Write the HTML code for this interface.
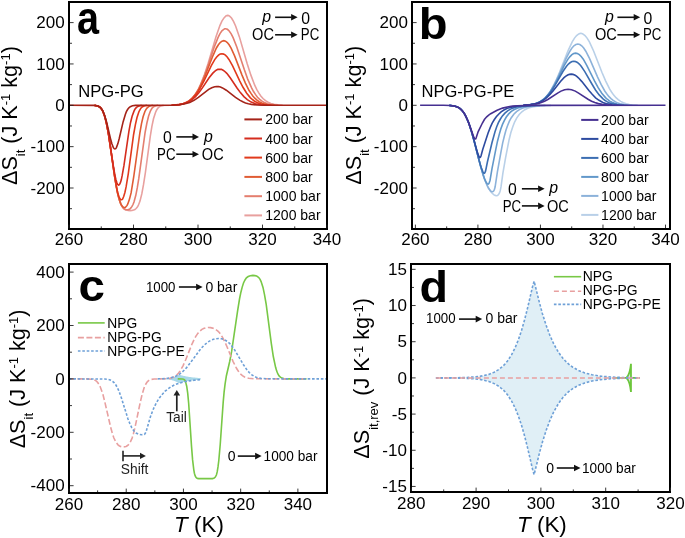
<!DOCTYPE html><html><head><meta charset="utf-8"><style>html,body{margin:0;padding:0;background:#fff;}svg{display:block;will-change:transform;}</style></head><body><svg width="685" height="538" viewBox="0 0 685 538" font-family="Liberation Sans, sans-serif" fill="#000">
<rect width="685" height="538" fill="#fff"/>
<defs>
<clipPath id="ca"><rect x="70" y="3" width="256" height="225"/></clipPath>
<clipPath id="cb"><rect x="413" y="3" width="256" height="225"/></clipPath>
<clipPath id="cc"><rect x="70" y="265" width="256" height="227"/></clipPath>
<clipPath id="cd"><rect x="412" y="265" width="257" height="226"/></clipPath>
</defs>
<g clip-path="url(#ca)">
<path d="M94.6 105.4L96.7 105.7L98.5 106.3L99.9 107.2L101.2 108.5L102.3 110.3L103.4 112.6L105.5 118.9L107.2 126.6L108.9 136.5L114.1 172.6L116.0 184.9L117.8 194.2L119.8 201.2L121.7 205.8L122.8 207.4L123.8 208.6L125.0 209.5L126.4 210.1L128.1 210.5L130.1 210.6L132.0 210.4L133.6 210.1L134.9 209.5L136.1 208.5L137.2 207.3L138.2 205.7L140.0 201.1L141.8 193.9L143.5 184.7L145.4 172.5L150.3 136.1L151.9 126.4L153.5 118.8L155.5 112.5L156.5 110.2L157.6 108.5L158.8 107.2L160.1 106.3L161.7 105.8L163.6 105.4M171.5 105.2L176.4 104.9L180.3 104.3L183.6 103.5L186.5 102.3L189.2 100.7L191.7 98.6L194.1 95.9L196.3 92.7L198.4 89.1L200.3 85.1L204.4 74.7L208.1 63.4L216.0 36.7L219.9 25.6L221.9 21.1L224.0 17.9L225.9 16.0L226.9 15.6L227.7 15.4L228.6 15.6L229.6 16.1L231.5 18.0L233.5 21.4L235.6 26.0L239.4 36.9L247.2 63.7L250.8 74.9L254.7 85.2L256.7 89.3L258.6 92.7L260.8 95.9L263.0 98.5L265.5 100.7L268.1 102.3L270.9 103.5L274.1 104.3L277.9 104.9L282.7 105.2" fill="none" stroke="#e8a09e" stroke-width="1.6"/>
<path d="M94.6 105.4L96.5 105.7L98.1 106.2L99.4 106.9L100.6 107.9L101.7 109.2L102.8 111.1L104.6 115.9L106.4 123.0L108.3 132.5L115.0 179.0L116.6 188.4L118.1 195.5L120.0 201.9L120.9 204.3L122.0 206.3L123.2 207.9L124.4 209.0L125.7 209.6L127.1 209.8L128.5 209.6L129.8 209.0L130.9 207.9L132.0 206.4L133.0 204.5L134.0 202.0L135.8 195.3L137.3 187.7L138.8 178.4L145.1 132.5L146.9 123.0L148.6 116.0L150.4 111.0L151.4 109.2L152.3 107.9L153.4 106.9L154.7 106.2L156.2 105.7L158.0 105.4M171.5 105.2L176.2 104.9L179.9 104.4L183.1 103.7L185.9 102.6L188.5 101.2L191.0 99.4L193.2 97.1L195.4 94.3L197.3 91.3L199.2 87.8L203.1 79.1L206.7 69.5L214.4 46.6L218.1 37.4L220.0 33.6L221.9 30.8L223.8 29.3L224.7 28.8L225.6 28.7L226.4 28.9L227.4 29.3L229.2 31.0L231.2 33.8L233.1 37.6L236.8 47.0L244.3 69.6L247.7 79.1L251.6 87.9L253.4 91.3L255.4 94.4L257.5 97.2L259.7 99.4L262.0 101.2L264.5 102.6L267.2 103.7L270.3 104.4L274.0 104.9L278.5 105.2" fill="none" stroke="#e47e6e" stroke-width="1.6"/>
<path d="M94.6 105.4L96.6 105.7L98.3 106.2L99.7 107.0L100.8 108.1L101.9 109.6L103.0 111.6L104.9 116.9L106.6 124.0L108.5 133.8L114.7 177.0L117.5 192.7L119.1 199.1L120.8 203.8L121.7 205.4L122.6 206.5L123.4 207.2L124.4 207.5L125.4 207.2L126.2 206.5L127.1 205.4L127.9 203.7L129.5 199.1L131.1 192.9L133.7 177.0L139.8 133.3L141.5 123.6L143.1 116.8L144.9 111.5L145.9 109.6L147.0 108.1L148.2 107.0L149.4 106.2L150.9 105.7L152.9 105.4M171.5 105.2L175.9 104.9L179.4 104.5L182.6 103.9L185.3 103.0L187.7 101.8L190.1 100.2L192.2 98.3L194.4 95.9L196.3 93.3L198.2 90.4L201.9 83.1L205.4 75.0L212.9 55.8L216.4 48.0L218.4 44.8L220.2 42.5L222.0 41.2L223.8 40.7L225.5 41.2L227.3 42.5L229.1 44.8L231.1 48.1L234.6 55.9L242.0 75.1L245.4 83.1L249.1 90.5L251.0 93.4L252.8 95.9L254.8 98.2L257.0 100.2L259.2 101.7L261.7 103.0L264.3 103.8L267.3 104.5L270.8 104.9L275.1 105.2" fill="none" stroke="#e05c34" stroke-width="1.6"/>
<path d="M94.6 105.4L96.6 105.7L98.3 106.2L99.7 107.0L100.8 108.1L102.0 109.7L103.1 111.8L105.0 117.3L106.7 124.5L108.6 134.5L114.3 173.9L116.5 187.2L117.8 193.0L119.0 196.8L120.2 199.1L120.8 199.7L121.4 199.8L122.0 199.6L122.6 199.0L123.7 196.5L124.9 192.5L126.1 186.9L128.3 173.6L133.6 134.5L135.4 124.6L137.0 117.5L138.9 111.7L139.9 109.8L140.9 108.2L142.1 107.0L143.4 106.2L144.9 105.7L146.9 105.4M171.6 105.2L179.0 104.6L181.9 104.1L184.5 103.3L186.9 102.4L189.1 101.1L191.3 99.5L193.3 97.6L197.0 93.2L200.6 87.4L204.0 81.0L211.3 65.7L214.7 59.6L216.7 56.9L218.5 55.1L220.2 54.0L221.9 53.7L223.6 54.1L225.4 55.1L227.2 57.0L229.1 59.7L232.6 65.8L239.8 81.1L243.0 87.3L246.7 93.2L250.2 97.6L252.3 99.5L254.3 101.0L256.5 102.3L258.8 103.3L261.4 104.0L264.2 104.6L271.5 105.2" fill="none" stroke="#e13a1c" stroke-width="1.6"/>
<path d="M94.6 105.4L96.5 105.7L98.1 106.2L99.4 106.9L100.6 107.9L101.7 109.2L102.8 111.1L104.7 116.2L106.4 122.9L108.1 131.8L113.3 165.8L115.0 175.6L116.0 179.9L117.0 183.0L117.8 184.6L118.3 185.0L118.7 185.1L119.5 184.5L120.4 182.7L121.3 179.8L122.2 175.4L124.0 165.2L128.9 131.4L130.5 122.7L132.1 116.2L134.0 111.1L134.9 109.3L136.0 107.9L137.1 106.9L138.4 106.2L139.9 105.7L141.7 105.4M171.8 105.2L178.6 104.7L183.6 103.7L188.1 102.1L192.0 99.7L195.5 96.6L199.0 92.5L202.2 88.1L209.1 77.8L212.6 73.4L214.4 71.6L216.2 70.2L217.9 69.4L219.7 69.2L221.4 69.4L223.1 70.2L224.9 71.5L226.8 73.3L230.2 77.7L237.2 88.2L240.4 92.6L243.9 96.6L247.3 99.7L251.2 102.1L255.5 103.7L260.5 104.7L267.1 105.2" fill="none" stroke="#d52d1e" stroke-width="1.6"/>
<path d="M69.0 105.3L94.6 105.4L96.5 105.7L98.0 106.1L99.3 106.8L100.5 107.7L101.6 108.9L102.7 110.7L104.7 115.5L106.7 122.5L110.5 138.6L111.9 143.8L113.4 147.7L114.2 148.7L114.9 149.0L115.7 148.7L116.4 147.6L117.9 143.6L119.3 138.3L123.1 121.9L125.4 114.3L126.4 111.6L127.6 109.5L128.9 107.8L130.3 106.7L132.5 105.8L135.5 105.4L172.7 105.2L179.7 104.7L185.0 103.8L189.7 102.4L194.0 100.3L198.4 97.4L208.7 89.4L211.8 87.7L214.7 86.7L216.7 86.5L218.5 86.6L220.4 87.1L222.5 87.9L226.3 90.2L235.5 97.4L240.1 100.4L242.8 101.8L245.5 102.9L248.3 103.7L251.4 104.4L257.2 105.0L265.3 105.2L327.0 105.3" fill="none" stroke="#a52318" stroke-width="1.6"/>
</g>
<g clip-path="url(#cb)">
<path d="M523.2 105.2L527.9 104.9L531.7 104.4L534.9 103.8L537.7 102.8L540.4 101.5L542.9 99.8L545.3 97.7L547.6 95.2L549.6 92.4L551.6 89.1L555.7 81.2L559.6 72.1L568.0 50.9L572.2 41.8L574.5 38.1L576.6 35.5L578.8 33.9L579.8 33.5L580.8 33.3L581.8 33.5L582.8 33.9L585.0 35.5L587.1 38.1L589.4 41.9L593.6 51.0L601.9 72.2L605.7 81.1L609.7 89.2L611.7 92.3L613.7 95.1L616.0 97.7L618.2 99.7L620.7 101.4L623.4 102.8L626.2 103.8L629.4 104.5L633.1 104.9L637.8 105.2" fill="none" stroke="#b9d0e8" stroke-width="1.6"/>
<path d="M523.2 105.2L531.3 104.5L534.5 103.9L537.2 103.0L539.8 101.9L542.2 100.3L544.5 98.5L546.6 96.3L548.6 94.0L550.5 91.2L554.5 84.2L558.1 76.7L566.0 58.7L569.9 51.2L572.0 47.9L573.9 45.8L575.9 44.5L577.8 44.0L579.8 44.5L581.7 45.8L583.7 48.0L585.8 51.2L589.6 58.7L597.5 76.8L601.1 84.4L604.9 91.2L606.9 94.0L608.8 96.4L611.0 98.6L613.2 100.4L615.6 101.9L618.1 103.1L620.8 103.9L623.9 104.5L631.8 105.2" fill="none" stroke="#8cb2da" stroke-width="1.6"/>
<path d="M523.2 105.2L530.9 104.6L533.8 104.0L536.5 103.3L539.0 102.3L541.3 101.0L543.5 99.5L545.6 97.6L549.4 93.1L553.2 87.3L556.7 80.9L564.3 65.4L568.0 59.1L570.0 56.6L571.9 54.6L573.7 53.5L575.6 53.1L577.4 53.5L579.3 54.6L581.2 56.5L583.3 59.2L586.9 65.6L594.5 80.9L598.0 87.4L601.8 93.3L605.5 97.6L607.6 99.5L609.7 101.1L612.0 102.3L614.5 103.3L617.0 104.0L620.0 104.6L627.5 105.2" fill="none" stroke="#6298ca" stroke-width="1.6"/>
<path d="M523.2 105.2L530.5 104.6L535.9 103.5L538.2 102.7L540.5 101.6L542.6 100.3L544.7 98.7L548.4 94.9L552.1 90.0L555.4 84.6L562.9 71.5L566.5 66.3L568.4 64.0L570.3 62.5L572.1 61.5L573.8 61.3L575.6 61.6L577.4 62.5L579.3 64.1L581.2 66.3L584.8 71.6L592.2 84.5L595.5 90.0L599.2 94.9L602.8 98.6L604.8 100.3L606.9 101.6L609.1 102.7L611.5 103.5L616.8 104.6L624.0 105.2" fill="none" stroke="#3c6eb2" stroke-width="1.6"/>
<path d="M523.4 105.2L530.0 104.7L535.0 103.9L539.3 102.5L543.3 100.3L546.7 97.7L550.2 94.3L553.4 90.5L560.5 81.4L564.0 77.7L565.9 76.2L567.7 75.0L569.4 74.4L571.2 74.1L572.9 74.4L574.7 75.0L576.5 76.2L578.4 77.8L581.9 81.6L588.9 90.5L592.2 94.3L595.6 97.8L599.0 100.3L602.9 102.4L607.2 103.9L612.2 104.7L618.6 105.2" fill="none" stroke="#2d4ba0" stroke-width="1.6"/>
<path d="M524.2 105.2L529.5 104.9L533.9 104.4L537.7 103.6L541.3 102.5L544.5 101.2L547.8 99.5L557.6 93.1L561.0 91.1L564.6 89.7L568.1 89.2L571.6 89.7L575.3 91.1L578.6 93.1L588.4 99.5L591.6 101.2L594.8 102.5L598.4 103.6L602.2 104.4L606.5 104.9L611.8 105.2" fill="none" stroke="#463091" stroke-width="1.6"/>
<path d="M449.3 105.4L452.5 105.7L455.0 106.2L457.1 106.9L459.1 107.9L460.9 109.3L462.5 111.0L464.1 113.2L465.6 115.8L468.4 122.1L471.2 130.6L474.0 140.5L481.1 167.8L483.3 175.4L485.5 181.5L488.1 187.5L490.8 191.7L492.2 193.3L493.7 194.6L495.2 195.4L496.4 195.7L497.5 195.4L498.6 194.5L499.5 193.0L500.2 190.9L501.0 186.9L502.9 173.2L505.6 157.7L509.1 139.7L510.8 132.8L512.7 126.9L514.6 122.0L516.8 117.9L519.2 114.5L521.9 111.8L524.8 109.7L528.3 108.1L532.3 107.0L537.0 106.2L542.9 105.7L551.0 105.4" fill="none" stroke="#b9d0e8" stroke-width="1.6"/>
<path d="M449.3 105.4L452.5 105.7L455.1 106.2L457.3 107.0L459.3 108.0L461.1 109.5L462.8 111.4L464.5 113.8L466.0 116.6L468.8 123.2L471.5 131.6L474.1 140.9L480.6 166.3L484.3 178.4L486.5 184.0L488.6 188.3L490.6 191.0L491.4 191.6L492.2 191.8L493.0 191.6L493.8 190.7L494.5 189.3L495.1 187.0L497.4 171.8L500.8 152.9L502.7 142.9L504.5 135.5L506.0 130.0L507.7 125.3L509.4 121.2L511.3 117.7L513.8 114.3L516.5 111.6L519.4 109.6L522.9 108.0L526.9 106.9L531.6 106.2L537.5 105.7L545.4 105.4" fill="none" stroke="#8cb2da" stroke-width="1.6"/>
<path d="M449.3 105.4L452.5 105.7L455.1 106.2L457.3 107.0L459.3 108.0L461.1 109.5L462.8 111.4L464.5 113.8L466.0 116.6L468.8 123.2L471.6 132.0L474.2 141.2L480.2 164.8L483.2 175.0L484.6 179.0L486.0 181.9L487.1 183.6L488.1 184.1L488.6 183.9L489.1 183.2L490.0 180.5L492.0 168.6L495.8 149.4L497.5 141.2L499.2 134.6L500.8 129.1L502.5 124.4L504.4 120.4L506.3 117.0L508.7 113.9L511.3 111.4L514.3 109.5L517.8 107.9L521.7 106.9L526.4 106.2L532.2 105.7L540.0 105.4" fill="none" stroke="#6298ca" stroke-width="1.6"/>
<path d="M449.3 105.4L452.5 105.7L455.1 106.2L457.2 106.9L459.2 107.9L461.0 109.4L462.6 111.2L464.2 113.3L465.7 116.0L468.5 122.3L471.3 130.9L474.0 140.5L479.2 160.8L481.1 167.2L482.8 171.6L483.6 172.9L484.2 173.3L484.6 173.1L484.9 172.7L485.6 170.9L487.4 162.0L491.9 143.0L495.0 131.7L496.7 126.8L498.4 122.7L500.4 119.0L502.4 115.9L504.9 113.1L507.6 110.8L510.5 109.1L513.9 107.7L517.7 106.8L522.3 106.1L527.9 105.7L535.5 105.4" fill="none" stroke="#3c6eb2" stroke-width="1.6"/>
<path d="M449.3 105.4L454.7 106.1L456.7 106.7L458.6 107.6L460.3 108.8L461.8 110.2L463.4 112.1L464.8 114.3L467.0 118.8L469.3 124.6L472.0 133.0L477.4 152.4L478.8 156.2L479.4 157.2L479.9 157.5L480.4 157.2L481.0 156.0L482.8 149.2L488.1 133.0L490.4 127.1L492.2 123.2L494.2 119.8L496.3 116.7L498.6 114.2L501.1 111.9L503.9 110.0L506.8 108.5L510.2 107.4L514.0 106.6L518.4 106.0L530.8 105.4" fill="none" stroke="#2d4ba0" stroke-width="1.6"/>
<path d="M420.1 105.3L443.4 105.3L450.1 105.5L455.1 106.2L457.1 106.9L458.9 107.8L460.7 109.1L462.3 110.8L464.0 113.0L465.5 115.6L468.4 122.0L473.5 136.3L474.5 138.4L474.9 138.9L475.3 139.0L475.7 138.8L476.1 138.0L478.2 131.6L482.4 123.0L484.4 119.5L486.7 116.8L488.4 115.3L490.7 113.7L497.1 110.3L502.6 108.1L508.4 106.7L512.5 106.1L517.4 105.7L531.7 105.4L665.5 105.3" fill="none" stroke="#463091" stroke-width="1.6"/>
</g>
<g clip-path="url(#cc)">
<path d="M149.1 378.9L149.2 378.9L149.3 378.9L149.4 378.9L149.5 378.9L149.5 378.9L149.6 378.9L149.7 378.9L149.8 378.9L149.9 378.9L150.0 378.9L150.1 378.9L150.1 378.9L150.2 378.9L150.3 378.9L150.4 378.9L150.5 378.9L150.6 378.9L150.7 378.9L150.7 378.9L150.8 378.9L150.9 378.9L151.0 378.9L151.1 378.9L151.2 378.9L151.3 378.9L151.3 378.9L151.4 378.9L151.5 378.9L151.6 378.9L151.7 378.9L151.8 378.9L151.9 378.9L151.9 378.9L152.0 378.9L152.1 378.9L152.2 378.9L152.3 378.9L152.4 378.9L152.5 378.9L152.6 378.9L152.6 378.9L152.7 378.9L152.8 378.9L152.9 378.9L153.0 378.9L153.1 378.9L153.2 378.9L153.2 378.9L153.3 378.9L153.4 378.9L153.5 378.9L153.6 378.9L153.7 378.9L153.8 378.9L153.8 378.9L153.9 378.9L154.0 378.9L154.1 378.9L154.2 378.9L154.3 378.9L154.4 378.9L154.4 378.9L154.5 378.9L154.6 378.9L154.7 378.9L154.8 378.9L154.9 378.9L155.0 378.9L155.0 378.9L155.1 378.9L155.2 378.9L155.3 378.9L155.4 378.9L155.5 378.9L155.6 378.9L155.6 378.9L155.7 378.9L155.8 378.9L155.9 378.9L156.0 378.9L156.1 378.9L156.2 378.9L156.2 378.9L156.3 378.9L156.4 378.9L156.5 378.9L156.6 378.9L156.7 378.9L156.8 378.9L156.8 378.9L156.9 378.9L157.0 378.9L157.1 378.9L157.2 378.9L157.3 378.9L157.4 378.9L157.5 378.9L157.5 378.9L157.6 378.9L157.7 378.9L157.8 378.9L157.9 378.9L158.0 378.8L158.1 378.8L158.1 378.8L158.2 378.8L158.3 378.8L158.4 378.8L158.5 378.8L158.6 378.8L158.7 378.8L158.7 378.8L158.8 378.8L158.9 378.8L159.0 378.8L159.1 378.8L159.2 378.8L159.3 378.8L159.3 378.8L159.4 378.8L159.5 378.8L159.6 378.8L159.7 378.8L159.8 378.8L159.9 378.8L159.9 378.8L160.0 378.8L160.1 378.8L160.2 378.8L160.3 378.8L160.4 378.8L160.5 378.8L160.5 378.8L160.6 378.8L160.7 378.8L160.8 378.8L160.9 378.8L161.0 378.8L161.1 378.8L161.1 378.8L161.2 378.8L161.3 378.8L161.4 378.8L161.5 378.8L161.6 378.8L161.7 378.8L161.7 378.8L161.8 378.8L161.9 378.8L162.0 378.8L162.1 378.7L162.2 378.7L162.3 378.7L162.4 378.7L162.4 378.7L162.5 378.7L162.6 378.7L162.7 378.7L162.8 378.7L162.9 378.7L163.0 378.7L163.0 378.7L163.1 378.7L163.2 378.7L163.3 378.7L163.4 378.7L163.5 378.7L163.6 378.7L163.6 378.7L163.7 378.7L163.8 378.7L163.9 378.7L164.0 378.7L164.1 378.7L164.2 378.6L164.2 378.6L164.3 378.6L164.4 378.6L164.5 378.6L164.6 378.6L164.7 378.6L164.8 378.6L164.8 378.6L164.9 378.6L165.0 378.6L165.1 378.6L165.2 378.6L165.3 378.6L165.4 378.6L165.4 378.6L165.5 378.6L165.6 378.5L165.7 378.5L165.8 378.5L165.9 378.5L166.0 378.5L166.0 378.5L166.1 378.5L166.2 378.5L166.3 378.5L166.4 378.5L166.5 378.5L166.6 378.5L166.7 378.5L166.7 378.4L166.8 378.4L166.9 378.4L167.0 378.4L167.1 378.4L167.2 378.4L167.3 378.4L167.3 378.4L167.4 378.4L167.5 378.4L167.6 378.4L167.7 378.3L167.8 378.3L167.9 378.3L167.9 378.3L168.0 378.3L168.1 378.3L168.2 378.3L168.3 378.3L168.4 378.3L168.5 378.2L168.5 378.2L168.6 378.2L168.7 378.2L168.8 378.2L168.9 378.2L169.0 378.2L169.1 378.2L169.1 378.1L169.2 378.1L169.3 378.1L169.4 378.1L169.5 378.1L169.6 378.1L169.7 378.1L169.7 378.0L169.8 378.0L169.9 378.0L170.0 378.0L170.1 378.0L170.2 378.0L170.3 377.9L170.3 377.9L170.4 377.9L170.5 377.9L170.6 377.9L170.7 377.9L170.8 377.8L170.9 377.8L170.9 377.8L171.0 377.8L171.1 377.8L171.2 377.7L171.3 377.7L171.4 377.7L171.5 377.7L171.6 377.7L171.6 377.6L171.7 377.6L171.8 377.6L171.9 377.6L172.0 377.6L172.1 377.5L172.2 377.5L172.2 377.5L172.3 377.5L172.4 377.4L172.5 377.4L172.6 377.4L172.7 377.4L172.8 377.4L172.8 377.3L172.9 377.3L173.0 377.3L173.1 377.3L173.2 377.2L173.3 377.2L173.4 377.2L173.4 377.1L173.5 377.1L173.6 377.1L173.7 377.1L173.8 377.0L173.9 377.0L174.0 377.0L174.0 376.9L174.1 376.9L174.2 376.9L174.3 376.9L174.4 376.8L174.5 376.8L174.6 376.8L174.6 376.7L174.7 376.7L174.8 376.7L174.9 376.6L175.0 376.6L175.1 376.6L175.2 376.5L175.2 376.5L175.3 376.5L175.4 376.4L175.5 376.4L175.6 376.4L175.7 376.3L175.8 376.3L175.8 376.2L175.9 376.2L176.0 376.2L176.1 376.1L176.2 376.1L176.3 376.0L176.4 376.0L176.5 376.0L176.5 375.9L176.6 375.9L176.7 375.8L176.8 375.8L176.9 375.8L177.0 375.7L177.1 375.7L177.1 375.6L177.2 375.6L177.3 375.5L177.4 375.5L177.5 375.4L177.6 375.4L177.7 375.3L177.7 375.3L177.8 375.3L177.9 375.2L178.0 375.2L178.1 375.1L178.2 375.1L178.3 375.0L178.3 375.0L178.4 374.9L178.5 374.9L178.6 374.8L178.7 374.7L178.8 374.7L178.9 374.6L178.9 374.6L179.0 374.6L179.1 374.6L179.2 374.7L179.3 374.7L179.4 374.7L179.5 374.7L179.5 374.8L179.6 374.8L179.7 374.8L179.8 374.8L179.9 374.9L180.0 374.9L180.1 374.9L180.1 375.0L180.2 375.0L180.3 375.0L180.4 375.0L180.5 375.1L180.6 375.1L180.7 375.1L180.8 375.1L180.8 375.2L180.9 375.2L181.0 375.2L181.1 375.2L181.2 375.2L181.3 375.3L181.4 375.3L181.4 375.3L181.5 375.3L181.6 375.4L181.7 375.4L181.8 375.4L181.9 375.4L182.0 375.5L182.0 375.5L182.1 375.5L182.2 375.5L182.3 375.5L182.4 375.6L182.5 375.6L182.6 375.6L182.6 375.6L182.7 375.7L182.8 375.7L182.9 375.7L183.0 375.7L183.1 375.7L183.2 375.8L183.2 375.8L183.3 375.8L183.4 375.8L183.5 375.8L183.6 375.9L183.7 375.9L183.8 375.9L183.8 375.9L183.9 375.9L184.0 376.0L184.1 376.0L184.2 376.0L184.3 376.0L184.4 376.0L184.4 376.1L184.5 376.1L184.6 376.1L184.7 376.1L184.8 376.1L184.9 376.1L185.0 376.2L185.0 376.2L185.1 376.2L185.2 376.2L185.3 376.2L185.4 376.2L185.5 376.3L185.6 376.3L185.7 376.3L185.7 376.3L185.8 376.3L185.9 376.3L186.0 376.4L186.1 376.4L186.2 376.4L186.3 376.4L186.3 376.4L186.4 376.4L186.5 376.5L186.6 376.5L186.7 376.5L186.8 376.5L186.9 376.5L186.9 376.5L187.0 376.6L187.1 376.6L187.2 376.6L187.3 376.6L187.4 376.6L187.5 376.6L187.5 376.6L187.6 376.7L187.7 376.7L187.8 376.7L187.9 376.7L188.0 376.7L188.1 376.7L188.1 376.7L188.2 376.8L188.3 376.8L188.4 376.8L188.5 376.8L188.6 376.8L188.7 376.8L188.7 376.8L188.8 376.9L188.9 376.9L189.0 376.9L189.1 376.9L189.2 376.9L189.3 376.9L189.3 376.9L189.4 376.9L189.5 377.0L189.6 377.0L189.7 377.0L189.8 377.0L189.9 377.0L190.0 377.0L190.0 377.0L190.1 377.0L190.2 377.1L190.3 377.1L190.4 377.1L190.5 377.1L190.6 377.1L190.6 377.1L190.7 377.1L190.8 377.1L190.9 377.2L191.0 377.2L191.1 377.2L191.2 377.2L191.2 377.2L191.3 377.2L191.4 377.2L191.5 377.2L191.6 377.2L191.7 377.3L191.8 377.3L191.8 377.3L191.9 377.3L192.0 377.3L192.1 377.3L192.2 377.3L192.3 377.3L192.4 377.3L192.4 377.3L192.5 377.4L192.6 377.4L192.7 377.4L192.8 377.4L192.9 377.4L193.0 377.4L193.0 377.4L193.1 377.4L193.2 377.4L193.3 377.4L193.4 377.5L193.5 377.5L193.6 377.5L193.6 377.5L193.7 377.5L193.8 377.5L193.9 377.5L194.0 377.5L194.1 377.5L194.2 377.5L194.2 377.5L194.3 377.6L194.4 377.6L194.5 377.6L194.6 377.6L194.7 377.6L194.8 377.6L194.9 377.6L194.9 377.6L195.0 377.6L195.1 377.6L195.2 377.6L195.3 377.6L195.4 377.7L195.5 377.7L195.5 377.7L195.6 377.7L195.7 377.7L195.8 377.7L195.9 377.7L196.0 377.7L196.1 377.7L196.1 377.7L196.2 377.7L196.3 377.7L196.4 377.7L196.5 377.8L196.6 377.8L196.7 377.8L196.7 377.8L196.8 377.8L196.9 377.8L197.0 377.8L197.1 377.8L197.2 377.8L197.3 377.8L197.3 377.8L197.4 377.8L197.5 377.8L197.6 377.8L197.7 377.9L197.8 377.9L197.9 377.9L197.9 377.9L198.0 377.9L198.1 377.9L198.2 377.9L198.3 377.9L198.4 377.9L198.5 377.9L198.5 377.9L198.6 377.9L198.7 377.9L198.8 377.9L198.9 377.9L199.0 378.0L199.1 378.0L199.1 378.0L199.2 378.0L199.3 378.0L199.4 378.0L199.5 378.0L199.6 378.0L199.7 378.0L199.8 378.0L199.8 378.0L199.9 378.0L200.0 378.0L200.1 378.0L200.2 378.0L200.3 378.0L200.4 378.0L200.4 378.1L200.5 378.1L200.6 378.1L200.6 379.7L200.5 379.7L200.4 379.7L200.4 379.8L200.3 379.8L200.2 379.8L200.1 379.8L200.0 379.8L199.9 379.8L199.8 379.8L199.8 379.8L199.7 379.8L199.6 379.8L199.5 379.8L199.4 379.8L199.3 379.8L199.2 379.8L199.1 379.8L199.1 379.8L199.0 379.8L198.9 379.9L198.8 379.9L198.7 379.9L198.6 379.9L198.5 379.9L198.5 379.9L198.4 379.9L198.3 379.9L198.2 379.9L198.1 379.9L198.0 379.9L197.9 379.9L197.9 379.9L197.8 379.9L197.7 379.9L197.6 380.0L197.5 380.0L197.4 380.0L197.3 380.0L197.3 380.0L197.2 380.0L197.1 380.0L197.0 380.0L196.9 380.0L196.8 380.0L196.7 380.0L196.7 380.0L196.6 380.0L196.5 380.0L196.4 380.1L196.3 380.1L196.2 380.1L196.1 380.1L196.1 380.1L196.0 380.1L195.9 380.1L195.8 380.1L195.7 380.1L195.6 380.1L195.5 380.1L195.5 380.1L195.4 380.1L195.3 380.2L195.2 380.2L195.1 380.2L195.0 380.2L194.9 380.2L194.9 380.2L194.8 380.2L194.7 380.2L194.6 380.2L194.5 380.2L194.4 380.2L194.3 380.2L194.2 380.3L194.2 380.3L194.1 380.3L194.0 380.3L193.9 380.3L193.8 380.3L193.7 380.3L193.6 380.3L193.6 380.3L193.5 380.3L193.4 380.3L193.3 380.4L193.2 380.4L193.1 380.4L193.0 380.4L193.0 380.4L192.9 380.4L192.8 380.4L192.7 380.4L192.6 380.4L192.5 380.4L192.4 380.5L192.4 380.5L192.3 380.5L192.2 380.5L192.1 380.5L192.0 380.5L191.9 380.5L191.8 380.5L191.8 380.5L191.7 380.5L191.6 380.6L191.5 380.6L191.4 380.6L191.3 380.6L191.2 380.6L191.2 380.6L191.1 380.6L191.0 380.6L190.9 380.6L190.8 380.7L190.7 380.7L190.6 380.7L190.6 380.7L190.5 380.7L190.4 380.7L190.3 380.7L190.2 380.7L190.1 380.8L190.0 380.8L190.0 380.8L189.9 380.8L189.8 380.8L189.7 380.8L189.6 380.8L189.5 380.8L189.4 380.9L189.3 380.9L189.3 380.9L189.2 380.9L189.1 380.9L189.0 380.9L188.9 380.9L188.8 380.9L188.7 381.0L188.7 381.0L188.6 381.0L188.5 381.0L188.4 381.0L188.3 381.0L188.2 381.0L188.1 381.1L188.1 381.1L188.0 381.1L187.9 381.1L187.8 381.1L187.7 381.1L187.6 381.1L187.5 381.2L187.5 381.2L187.4 381.2L187.3 381.2L187.2 381.2L187.1 381.2L187.0 381.2L186.9 381.3L186.9 381.3L186.8 381.3L186.7 381.3L186.6 381.3L186.5 381.3L186.4 381.4L186.3 381.4L186.3 381.4L186.2 381.4L186.1 381.4L186.0 381.4L185.9 381.5L185.8 381.5L185.7 381.5L185.7 381.5L185.6 381.5L185.5 381.5L185.4 381.6L185.3 381.6L185.2 381.6L185.1 381.6L185.0 381.6L185.0 381.6L184.9 381.7L184.8 381.7L184.7 381.7L184.6 381.7L184.5 381.7L184.4 381.7L184.4 381.8L184.3 381.8L184.2 381.8L184.1 381.8L184.0 381.8L183.9 381.9L183.8 381.9L183.8 381.9L183.7 381.9L183.6 381.9L183.5 382.0L183.4 382.0L183.3 382.0L183.2 382.0L183.2 382.0L183.1 382.1L183.0 382.1L182.9 382.1L182.8 382.1L182.7 382.1L182.6 382.2L182.6 382.2L182.5 382.2L182.4 382.2L182.3 382.3L182.2 382.3L182.1 382.3L182.0 382.3L182.0 382.3L181.9 382.4L181.8 382.4L181.7 382.4L181.6 382.4L181.5 382.5L181.4 382.5L181.4 382.5L181.3 382.5L181.2 382.6L181.1 382.6L181.0 382.6L180.9 382.6L180.8 382.6L180.8 382.7L180.7 382.7L180.6 382.7L180.5 382.7L180.4 382.8L180.3 382.8L180.2 382.8L180.1 382.8L180.1 382.9L180.0 382.9L179.9 382.9L179.8 383.0L179.7 383.0L179.6 383.0L179.5 383.0L179.5 383.1L179.4 383.1L179.3 383.1L179.2 383.1L179.1 383.2L179.0 383.2L178.9 383.2L178.9 383.2L178.8 383.1L178.7 383.1L178.6 383.0L178.5 382.9L178.4 382.9L178.3 382.8L178.3 382.8L178.2 382.7L178.1 382.7L178.0 382.6L177.9 382.6L177.8 382.5L177.7 382.5L177.7 382.5L177.6 382.4L177.5 382.4L177.4 382.3L177.3 382.3L177.2 382.2L177.1 382.2L177.1 382.1L177.0 382.1L176.9 382.0L176.8 382.0L176.7 382.0L176.6 381.9L176.5 381.9L176.5 381.8L176.4 381.8L176.3 381.8L176.2 381.7L176.1 381.7L176.0 381.6L175.9 381.6L175.8 381.6L175.8 381.5L175.7 381.5L175.6 381.4L175.5 381.4L175.4 381.4L175.3 381.3L175.2 381.3L175.2 381.3L175.1 381.2L175.0 381.2L174.9 381.2L174.8 381.1L174.7 381.1L174.6 381.1L174.6 381.0L174.5 381.0L174.4 381.0L174.3 380.9L174.2 380.9L174.1 380.9L174.0 380.9L174.0 380.8L173.9 380.8L173.8 380.8L173.7 380.7L173.6 380.7L173.5 380.7L173.4 380.7L173.4 380.6L173.3 380.6L173.2 380.6L173.1 380.5L173.0 380.5L172.9 380.5L172.8 380.5L172.8 380.4L172.7 380.4L172.6 380.4L172.5 380.4L172.4 380.4L172.3 380.3L172.2 380.3L172.2 380.3L172.1 380.3L172.0 380.2L171.9 380.2L171.8 380.2L171.7 380.2L171.6 380.2L171.6 380.1L171.5 380.1L171.4 380.1L171.3 380.1L171.2 380.1L171.1 380.0L171.0 380.0L170.9 380.0L170.9 380.0L170.8 380.0L170.7 379.9L170.6 379.9L170.5 379.9L170.4 379.9L170.3 379.9L170.3 379.9L170.2 379.8L170.1 379.8L170.0 379.8L169.9 379.8L169.8 379.8L169.7 379.8L169.7 379.7L169.6 379.7L169.5 379.7L169.4 379.7L169.3 379.7L169.2 379.7L169.1 379.7L169.1 379.6L169.0 379.6L168.9 379.6L168.8 379.6L168.7 379.6L168.6 379.6L168.5 379.6L168.5 379.6L168.4 379.5L168.3 379.5L168.2 379.5L168.1 379.5L168.0 379.5L167.9 379.5L167.9 379.5L167.8 379.5L167.7 379.5L167.6 379.4L167.5 379.4L167.4 379.4L167.3 379.4L167.3 379.4L167.2 379.4L167.1 379.4L167.0 379.4L166.9 379.4L166.8 379.4L166.7 379.4L166.7 379.3L166.6 379.3L166.5 379.3L166.4 379.3L166.3 379.3L166.2 379.3L166.1 379.3L166.0 379.3L166.0 379.3L165.9 379.3L165.8 379.3L165.7 379.3L165.6 379.3L165.5 379.2L165.4 379.2L165.4 379.2L165.3 379.2L165.2 379.2L165.1 379.2L165.0 379.2L164.9 379.2L164.8 379.2L164.8 379.2L164.7 379.2L164.6 379.2L164.5 379.2L164.4 379.2L164.3 379.2L164.2 379.2L164.2 379.2L164.1 379.1L164.0 379.1L163.9 379.1L163.8 379.1L163.7 379.1L163.6 379.1L163.6 379.1L163.5 379.1L163.4 379.1L163.3 379.1L163.2 379.1L163.1 379.1L163.0 379.1L163.0 379.1L162.9 379.1L162.8 379.1L162.7 379.1L162.6 379.1L162.5 379.1L162.4 379.1L162.4 379.1L162.3 379.1L162.2 379.1L162.1 379.1L162.0 379.0L161.9 379.0L161.8 379.0L161.7 379.0L161.7 379.0L161.6 379.0L161.5 379.0L161.4 379.0L161.3 379.0L161.2 379.0L161.1 379.0L161.1 379.0L161.0 379.0L160.9 379.0L160.8 379.0L160.7 379.0L160.6 379.0L160.5 379.0L160.5 379.0L160.4 379.0L160.3 379.0L160.2 379.0L160.1 379.0L160.0 379.0L159.9 379.0L159.9 379.0L159.8 379.0L159.7 379.0L159.6 379.0L159.5 379.0L159.4 379.0L159.3 379.0L159.3 379.0L159.2 379.0L159.1 379.0L159.0 379.0L158.9 379.0L158.8 379.0L158.7 379.0L158.7 379.0L158.6 379.0L158.5 379.0L158.4 379.0L158.3 379.0L158.2 379.0L158.1 379.0L158.1 379.0L158.0 379.0L157.9 378.9L157.8 378.9L157.7 378.9L157.6 378.9L157.5 378.9L157.5 378.9L157.4 378.9L157.3 378.9L157.2 378.9L157.1 378.9L157.0 378.9L156.9 378.9L156.8 378.9L156.8 378.9L156.7 378.9L156.6 378.9L156.5 378.9L156.4 378.9L156.3 378.9L156.2 378.9L156.2 378.9L156.1 378.9L156.0 378.9L155.9 378.9L155.8 378.9L155.7 378.9L155.6 378.9L155.6 378.9L155.5 378.9L155.4 378.9L155.3 378.9L155.2 378.9L155.1 378.9L155.0 378.9L155.0 378.9L154.9 378.9L154.8 378.9L154.7 378.9L154.6 378.9L154.5 378.9L154.4 378.9L154.4 378.9L154.3 378.9L154.2 378.9L154.1 378.9L154.0 378.9L153.9 378.9L153.8 378.9L153.8 378.9L153.7 378.9L153.6 378.9L153.5 378.9L153.4 378.9L153.3 378.9L153.2 378.9L153.2 378.9L153.1 378.9L153.0 378.9L152.9 378.9L152.8 378.9L152.7 378.9L152.6 378.9L152.6 378.9L152.5 378.9L152.4 378.9L152.3 378.9L152.2 378.9L152.1 378.9L152.0 378.9L151.9 378.9L151.9 378.9L151.8 378.9L151.7 378.9L151.6 378.9L151.5 378.9L151.4 378.9L151.3 378.9L151.3 378.9L151.2 378.9L151.1 378.9L151.0 378.9L150.9 378.9L150.8 378.9L150.7 378.9L150.7 378.9L150.6 378.9L150.5 378.9L150.4 378.9L150.3 378.9L150.2 378.9L150.1 378.9L150.1 378.9L150.0 378.9L149.9 378.9L149.8 378.9L149.7 378.9L149.6 378.9L149.5 378.9L149.5 378.9L149.4 378.9L149.3 378.9L149.2 378.9L149.1 378.9Z" fill="#a8d8e8" stroke="none"/>
<path d="M177.7 378.9L182.5 379.0L183.5 379.2L184.3 379.7L185.0 380.5L185.6 381.9L186.7 386.2L187.7 393.2L188.7 403.7L191.5 446.1L192.6 459.9L193.8 469.8L194.4 473.2L195.1 475.7L195.8 477.0L196.5 477.9L197.4 478.4L198.7 478.6L212.5 478.6L214.2 478.1L215.3 477.1L216.4 475.0L217.2 471.9L218.0 466.9L218.8 460.5L220.2 444.8L223.2 402.1L224.1 392.1L225.1 383.8L226.4 375.7L229.7 361.5L231.6 351.7L237.6 310.9L239.6 298.5L240.9 292.2L242.2 287.1L243.5 283.0L245.0 280.0L246.4 277.9L248.2 276.5L250.3 275.7L252.9 275.4L254.9 275.6L256.6 276.0L257.9 276.8L259.1 277.9L260.2 279.6L261.1 281.6L263.0 287.4L264.5 294.6L266.2 304.3L271.3 343.3L273.3 356.5L275.6 367.3L276.7 371.1L277.9 374.0L279.1 375.9L280.4 377.2L281.9 378.1L283.7 378.6L287.9 378.9L306.5 378.9" fill="none" stroke="#78c846" stroke-width="1.6"/>
<path d="M69.0 378.9L86.6 378.9L91.4 379.2L93.4 379.6L94.9 380.2L96.4 381.2L97.7 382.5L99.1 384.6L100.4 387.2L102.9 394.3L105.1 403.1L110.6 427.0L112.3 433.2L113.9 438.0L115.9 442.1L118.0 444.8L119.2 445.7L120.5 446.4L121.9 446.8L123.3 446.9L124.7 446.8L126.0 446.4L127.2 445.8L128.3 444.9L130.3 442.1L132.1 438.1L133.5 433.4L135.1 427.0L140.1 403.0L142.1 394.5L144.2 387.5L145.3 385.0L146.5 382.9L147.5 381.6L148.6 380.6L149.8 379.9L151.2 379.4L154.2 379.0L165.1 378.8L169.7 378.4L171.7 377.9L173.6 377.1L175.4 376.1L177.0 374.8L178.6 373.0L180.1 371.0L183.0 365.8L185.7 359.8L192.1 343.8L194.0 339.7L195.8 336.4L197.8 333.4L199.8 331.2L201.9 329.4L204.2 328.3L206.2 327.7L208.4 327.5L210.6 327.6L212.6 328.1L214.5 328.8L216.2 329.8L217.9 331.1L219.5 332.8L222.0 336.5L224.6 341.4L227.0 346.7L233.0 361.3L236.5 368.3L238.4 371.3L240.3 373.8L242.4 375.7L244.6 377.0L246.5 377.8L248.7 378.3L254.4 378.8L306.5 378.9" fill="none" stroke="#e8a0a0" stroke-width="1.6" stroke-dasharray="6 2.5"/>
<path d="M69.0 378.9L104.8 379.0L107.4 379.3L109.4 379.7L111.1 380.4L112.6 381.4L114.3 382.9L115.9 385.0L117.4 387.7L118.9 391.0L121.6 398.5L127.9 418.7L129.8 423.5L131.6 427.4L133.8 430.8L136.1 433.0L138.6 434.3L141.7 434.7L144.2 434.4L144.9 434.0L145.4 433.2L146.3 430.9L150.5 416.6L152.4 411.4L154.4 406.7L156.8 402.1L159.4 397.9L162.2 394.4L165.1 391.2L168.2 388.7L171.5 386.5L175.1 384.7L179.1 383.2L183.5 382.0L188.4 381.0L194.0 380.3L200.6 379.7" fill="none" stroke="#6ea0d7" stroke-width="1.6" stroke-dasharray="2.6 1.8"/>
<path d="M157.7 378.9L165.4 378.6L170.8 377.8L175.3 376.5L179.3 374.3L182.9 371.5L186.6 367.6L190.1 363.2L199.4 350.6L202.2 347.2L204.9 344.5L208.1 341.9L211.5 340.0L215.0 338.9L218.6 338.5L221.7 338.8L224.5 339.8L227.2 341.4L229.8 343.6L232.1 346.4L234.5 349.7L243.3 364.5L247.1 370.1L249.2 372.5L251.5 374.6L253.8 376.1L256.2 377.3L258.4 377.9L260.8 378.4L267.5 378.8L326.5 378.9" fill="none" stroke="#6ea0d7" stroke-width="1.6" stroke-dasharray="2.6 1.8"/>
</g>
<g clip-path="url(#cd)">
<path d="M435.9 377.9L454.3 377.8L466.2 377.5L475.1 376.9L482.4 375.9L485.6 375.2L488.8 374.4L491.6 373.4L494.2 372.2L496.7 370.9L499.0 369.4L501.1 367.8L503.3 365.8L505.5 363.5L507.5 361.0L509.6 358.0L511.5 354.9L513.4 351.3L515.2 347.6L516.9 343.4L518.6 339.2L521.6 330.2L524.6 319.8L527.6 307.9L532.6 286.4L533.6 282.8L534.1 281.2L539.4 302.5L542.5 314.0L546.1 325.2L549.8 335.1L551.8 339.9L553.8 344.1L555.9 348.0L558.1 351.6L560.4 355.0L562.7 358.0L565.2 360.8L567.6 363.2L570.2 365.4L572.8 367.2L575.5 368.9L578.4 370.4L581.5 371.8L584.8 372.9L588.3 373.9L592.1 374.8L596.1 375.5L600.4 376.1L610.4 377.0L622.9 377.5L640.0 377.8L640.0 378.0L622.9 378.3L610.4 378.8L600.4 379.7L596.1 380.3L592.1 381.0L588.3 381.9L584.8 382.9L581.5 384.0L578.4 385.4L575.5 386.9L572.8 388.6L570.2 390.4L567.6 392.6L565.2 395.0L562.7 397.8L560.4 400.8L558.1 404.2L555.9 407.8L553.8 411.7L551.8 415.9L549.8 420.7L546.1 430.6L542.5 441.8L539.4 453.3L534.1 474.6L533.6 473.0L532.6 469.4L527.6 447.9L524.6 436.0L521.6 425.6L518.6 416.6L516.9 412.4L515.2 408.2L513.4 404.5L511.5 400.9L509.6 397.8L507.5 394.8L505.5 392.3L503.3 390.0L501.1 388.0L499.0 386.4L496.7 384.9L494.2 383.6L491.6 382.4L488.8 381.4L485.6 380.6L482.4 379.9L475.1 378.9L466.2 378.3L454.3 378.0L435.9 377.9Z" fill="#e0eff6" stroke="none"/>
<path d="M 614.12 377.90 L 626.44 377.90 Q 629.97 374.28 630.97 363.79 L 630.97 392.01 Q 629.97 381.52 626.44 377.90 M 630.97 377.90 L 635.51 377.90" fill="#cfe9f3" stroke="#6cc63a" stroke-width="1.8"/>
<path d="M435.9 377.9L454.3 377.8L466.2 377.5L475.1 376.9L482.4 375.9L488.8 374.4L494.2 372.2L499.0 369.4L503.3 365.8L505.5 363.5L507.5 361.0L511.5 354.9L515.2 347.6L518.6 339.2L521.6 330.2L524.6 319.8L527.6 307.9L532.6 286.4L534.1 281.2L539.4 302.5L542.5 314.0L546.1 325.2L549.8 335.1L553.8 344.1L558.1 351.6L560.4 355.0L562.7 358.0L565.2 360.8L567.6 363.2L570.2 365.4L572.8 367.2L578.4 370.4L584.8 372.9L592.1 374.8L600.4 376.1L610.4 377.0L622.9 377.5L640.0 377.8" fill="none" stroke="#6ea0d7" stroke-width="1.6" stroke-dasharray="2.6 1.8"/>
<path d="M435.9 377.9L454.3 378.0L466.2 378.3L475.1 378.9L482.4 379.9L488.8 381.4L494.2 383.6L499.0 386.4L503.3 390.0L505.5 392.3L507.5 394.8L511.5 400.9L515.2 408.2L518.6 416.6L521.6 425.6L524.6 436.0L527.6 447.9L532.6 469.4L534.1 474.6L539.4 453.3L542.5 441.8L546.1 430.6L549.8 420.7L553.8 411.7L558.1 404.2L560.4 400.8L562.7 397.8L565.2 395.0L567.6 392.6L570.2 390.4L572.8 388.6L578.4 385.4L584.8 382.9L592.1 381.0L600.4 379.7L610.4 378.8L622.9 378.3L640.0 378.0" fill="none" stroke="#6ea0d7" stroke-width="1.6" stroke-dasharray="2.6 1.8"/>
<line x1="435.92" y1="377.90" x2="640.04" y2="377.90" stroke="#e8a0a0" stroke-width="1.5" stroke-dasharray="5 3"/>
</g>
<rect x="69" y="2" width="258" height="227" fill="none" stroke="#000" stroke-width="2"/>
<rect x="412" y="2" width="258" height="227" fill="none" stroke="#000" stroke-width="2"/>
<rect x="69" y="264" width="258" height="229" fill="none" stroke="#000" stroke-width="2"/>
<rect x="411" y="264" width="259" height="228" fill="none" stroke="#000" stroke-width="2"/>
<line x1="70" y1="188.00" x2="73.6" y2="188.00" stroke="#222" stroke-width="0.9"/>
<line x1="70" y1="146.65" x2="73.6" y2="146.65" stroke="#222" stroke-width="0.9"/>
<line x1="70" y1="105.30" x2="73.6" y2="105.30" stroke="#222" stroke-width="0.9"/>
<line x1="70" y1="63.95" x2="73.6" y2="63.95" stroke="#222" stroke-width="0.9"/>
<line x1="70" y1="22.60" x2="73.6" y2="22.60" stroke="#222" stroke-width="0.9"/>
<line x1="70" y1="208.68" x2="72.0" y2="208.68" stroke="#222" stroke-width="0.9"/>
<line x1="70" y1="167.32" x2="72.0" y2="167.32" stroke="#222" stroke-width="0.9"/>
<line x1="70" y1="125.97" x2="72.0" y2="125.97" stroke="#222" stroke-width="0.9"/>
<line x1="70" y1="84.62" x2="72.0" y2="84.62" stroke="#222" stroke-width="0.9"/>
<line x1="70" y1="43.27" x2="72.0" y2="43.27" stroke="#222" stroke-width="0.9"/>
<line x1="69.00" y1="228" x2="69.00" y2="224.6" stroke="#222" stroke-width="0.9"/>
<line x1="133.50" y1="228" x2="133.50" y2="224.6" stroke="#222" stroke-width="0.9"/>
<line x1="198.00" y1="228" x2="198.00" y2="224.6" stroke="#222" stroke-width="0.9"/>
<line x1="262.50" y1="228" x2="262.50" y2="224.6" stroke="#222" stroke-width="0.9"/>
<line x1="327.00" y1="228" x2="327.00" y2="224.6" stroke="#222" stroke-width="0.9"/>
<line x1="101.25" y1="228" x2="101.25" y2="226.4" stroke="#222" stroke-width="0.9"/>
<line x1="165.75" y1="228" x2="165.75" y2="226.4" stroke="#222" stroke-width="0.9"/>
<line x1="230.25" y1="228" x2="230.25" y2="226.4" stroke="#222" stroke-width="0.9"/>
<line x1="294.75" y1="228" x2="294.75" y2="226.4" stroke="#222" stroke-width="0.9"/>
<line x1="413" y1="188.00" x2="416.6" y2="188.00" stroke="#222" stroke-width="0.9"/>
<line x1="413" y1="146.65" x2="416.6" y2="146.65" stroke="#222" stroke-width="0.9"/>
<line x1="413" y1="105.30" x2="416.6" y2="105.30" stroke="#222" stroke-width="0.9"/>
<line x1="413" y1="63.95" x2="416.6" y2="63.95" stroke="#222" stroke-width="0.9"/>
<line x1="413" y1="22.60" x2="416.6" y2="22.60" stroke="#222" stroke-width="0.9"/>
<line x1="413" y1="208.68" x2="415.0" y2="208.68" stroke="#222" stroke-width="0.9"/>
<line x1="413" y1="167.32" x2="415.0" y2="167.32" stroke="#222" stroke-width="0.9"/>
<line x1="413" y1="125.97" x2="415.0" y2="125.97" stroke="#222" stroke-width="0.9"/>
<line x1="413" y1="84.62" x2="415.0" y2="84.62" stroke="#222" stroke-width="0.9"/>
<line x1="413" y1="43.27" x2="415.0" y2="43.27" stroke="#222" stroke-width="0.9"/>
<line x1="415.40" y1="228" x2="415.40" y2="224.6" stroke="#222" stroke-width="0.9"/>
<line x1="477.92" y1="228" x2="477.92" y2="224.6" stroke="#222" stroke-width="0.9"/>
<line x1="540.45" y1="228" x2="540.45" y2="224.6" stroke="#222" stroke-width="0.9"/>
<line x1="602.98" y1="228" x2="602.98" y2="224.6" stroke="#222" stroke-width="0.9"/>
<line x1="665.50" y1="228" x2="665.50" y2="224.6" stroke="#222" stroke-width="0.9"/>
<line x1="446.66" y1="228" x2="446.66" y2="226.4" stroke="#222" stroke-width="0.9"/>
<line x1="509.19" y1="228" x2="509.19" y2="226.4" stroke="#222" stroke-width="0.9"/>
<line x1="571.71" y1="228" x2="571.71" y2="226.4" stroke="#222" stroke-width="0.9"/>
<line x1="634.24" y1="228" x2="634.24" y2="226.4" stroke="#222" stroke-width="0.9"/>
<line x1="70" y1="485.70" x2="73.6" y2="485.70" stroke="#222" stroke-width="0.9"/>
<line x1="70" y1="432.30" x2="73.6" y2="432.30" stroke="#222" stroke-width="0.9"/>
<line x1="70" y1="378.90" x2="73.6" y2="378.90" stroke="#222" stroke-width="0.9"/>
<line x1="70" y1="325.50" x2="73.6" y2="325.50" stroke="#222" stroke-width="0.9"/>
<line x1="70" y1="272.10" x2="73.6" y2="272.10" stroke="#222" stroke-width="0.9"/>
<line x1="70" y1="459.00" x2="72.0" y2="459.00" stroke="#222" stroke-width="0.9"/>
<line x1="70" y1="405.60" x2="72.0" y2="405.60" stroke="#222" stroke-width="0.9"/>
<line x1="70" y1="352.20" x2="72.0" y2="352.20" stroke="#222" stroke-width="0.9"/>
<line x1="70" y1="298.80" x2="72.0" y2="298.80" stroke="#222" stroke-width="0.9"/>
<line x1="69.00" y1="492" x2="69.00" y2="488.6" stroke="#222" stroke-width="0.9"/>
<line x1="126.22" y1="492" x2="126.22" y2="488.6" stroke="#222" stroke-width="0.9"/>
<line x1="183.44" y1="492" x2="183.44" y2="488.6" stroke="#222" stroke-width="0.9"/>
<line x1="240.67" y1="492" x2="240.67" y2="488.6" stroke="#222" stroke-width="0.9"/>
<line x1="297.89" y1="492" x2="297.89" y2="488.6" stroke="#222" stroke-width="0.9"/>
<line x1="97.61" y1="492" x2="97.61" y2="490.4" stroke="#222" stroke-width="0.9"/>
<line x1="154.83" y1="492" x2="154.83" y2="490.4" stroke="#222" stroke-width="0.9"/>
<line x1="212.06" y1="492" x2="212.06" y2="490.4" stroke="#222" stroke-width="0.9"/>
<line x1="269.28" y1="492" x2="269.28" y2="490.4" stroke="#222" stroke-width="0.9"/>
<line x1="412" y1="486.45" x2="415.6" y2="486.45" stroke="#222" stroke-width="0.9"/>
<line x1="412" y1="450.27" x2="415.6" y2="450.27" stroke="#222" stroke-width="0.9"/>
<line x1="412" y1="414.08" x2="415.6" y2="414.08" stroke="#222" stroke-width="0.9"/>
<line x1="412" y1="377.90" x2="415.6" y2="377.90" stroke="#222" stroke-width="0.9"/>
<line x1="412" y1="341.71" x2="415.6" y2="341.71" stroke="#222" stroke-width="0.9"/>
<line x1="412" y1="305.53" x2="415.6" y2="305.53" stroke="#222" stroke-width="0.9"/>
<line x1="412" y1="269.34" x2="415.6" y2="269.34" stroke="#222" stroke-width="0.9"/>
<line x1="412" y1="468.36" x2="414.0" y2="468.36" stroke="#222" stroke-width="0.9"/>
<line x1="412" y1="432.18" x2="414.0" y2="432.18" stroke="#222" stroke-width="0.9"/>
<line x1="412" y1="395.99" x2="414.0" y2="395.99" stroke="#222" stroke-width="0.9"/>
<line x1="412" y1="359.81" x2="414.0" y2="359.81" stroke="#222" stroke-width="0.9"/>
<line x1="412" y1="323.62" x2="414.0" y2="323.62" stroke="#222" stroke-width="0.9"/>
<line x1="412" y1="287.44" x2="414.0" y2="287.44" stroke="#222" stroke-width="0.9"/>
<line x1="411.30" y1="491" x2="411.30" y2="487.6" stroke="#222" stroke-width="0.9"/>
<line x1="476.10" y1="491" x2="476.10" y2="487.6" stroke="#222" stroke-width="0.9"/>
<line x1="540.90" y1="491" x2="540.90" y2="487.6" stroke="#222" stroke-width="0.9"/>
<line x1="605.70" y1="491" x2="605.70" y2="487.6" stroke="#222" stroke-width="0.9"/>
<line x1="670.50" y1="491" x2="670.50" y2="487.6" stroke="#222" stroke-width="0.9"/>
<line x1="443.70" y1="491" x2="443.70" y2="489.4" stroke="#222" stroke-width="0.9"/>
<line x1="508.50" y1="491" x2="508.50" y2="489.4" stroke="#222" stroke-width="0.9"/>
<line x1="573.30" y1="491" x2="573.30" y2="489.4" stroke="#222" stroke-width="0.9"/>
<line x1="638.10" y1="491" x2="638.10" y2="489.4" stroke="#222" stroke-width="0.9"/>
<text x="64.6" y="28.20" text-anchor="end" font-size="17">200</text>
<text x="64.6" y="69.55" text-anchor="end" font-size="17">100</text>
<text x="64.6" y="110.90" text-anchor="end" font-size="17">0</text>
<text x="64.6" y="152.25" text-anchor="end" font-size="17">-100</text>
<text x="64.6" y="193.60" text-anchor="end" font-size="17">-200</text>
<text x="69.00" y="245.3" text-anchor="middle" font-size="17">260</text>
<text x="133.50" y="245.3" text-anchor="middle" font-size="17">280</text>
<text x="198.00" y="245.3" text-anchor="middle" font-size="17">300</text>
<text x="262.50" y="245.3" text-anchor="middle" font-size="17">320</text>
<text x="327.00" y="245.3" text-anchor="middle" font-size="17">340</text>
<text x="407.9" y="28.20" text-anchor="end" font-size="17">200</text>
<text x="407.9" y="69.55" text-anchor="end" font-size="17">100</text>
<text x="407.9" y="110.90" text-anchor="end" font-size="17">0</text>
<text x="407.9" y="152.25" text-anchor="end" font-size="17">-100</text>
<text x="407.9" y="193.60" text-anchor="end" font-size="17">-200</text>
<text x="415.40" y="245.3" text-anchor="middle" font-size="17">260</text>
<text x="477.92" y="245.3" text-anchor="middle" font-size="17">280</text>
<text x="540.45" y="245.3" text-anchor="middle" font-size="17">300</text>
<text x="602.98" y="245.3" text-anchor="middle" font-size="17">320</text>
<text x="665.50" y="245.3" text-anchor="middle" font-size="17">340</text>
<text x="64.6" y="277.70" text-anchor="end" font-size="17">400</text>
<text x="64.6" y="331.10" text-anchor="end" font-size="17">200</text>
<text x="64.6" y="384.50" text-anchor="end" font-size="17">0</text>
<text x="64.6" y="437.90" text-anchor="end" font-size="17">-200</text>
<text x="64.6" y="491.30" text-anchor="end" font-size="17">-400</text>
<text x="69.00" y="509.7" text-anchor="middle" font-size="17">260</text>
<text x="126.22" y="509.7" text-anchor="middle" font-size="17">280</text>
<text x="183.44" y="509.7" text-anchor="middle" font-size="17">300</text>
<text x="240.67" y="509.7" text-anchor="middle" font-size="17">320</text>
<text x="297.89" y="509.7" text-anchor="middle" font-size="17">340</text>
<text x="406.9" y="274.94" text-anchor="end" font-size="17">15</text>
<text x="406.9" y="311.13" text-anchor="end" font-size="17">10</text>
<text x="406.9" y="347.31" text-anchor="end" font-size="17">5</text>
<text x="406.9" y="383.50" text-anchor="end" font-size="17">0</text>
<text x="406.9" y="419.69" text-anchor="end" font-size="17">-5</text>
<text x="406.9" y="455.87" text-anchor="end" font-size="17">-10</text>
<text x="406.9" y="492.06" text-anchor="end" font-size="17">-15</text>
<text x="411.30" y="509.0" text-anchor="middle" font-size="17">280</text>
<text x="476.10" y="509.0" text-anchor="middle" font-size="17">290</text>
<text x="540.90" y="509.0" text-anchor="middle" font-size="17">300</text>
<text x="605.70" y="509.0" text-anchor="middle" font-size="17">310</text>
<text x="670.50" y="509.0" text-anchor="middle" font-size="17">320</text>
<text transform="translate(17.0,185.0) rotate(-90)" font-size="21.6">ΔS<tspan font-size="13.0" dy="8.2">it</tspan><tspan dy="-8.2"> (J K</tspan><tspan font-size="13.0" dy="-6.7">-1</tspan><tspan dy="6.7"> kg</tspan><tspan font-size="13.0" dy="-6.7">-1</tspan><tspan dy="6.7">)</tspan></text>
<text transform="translate(361.1,184.7) rotate(-90)" font-size="21.6">ΔS<tspan font-size="13.0" dy="8.2">it</tspan><tspan dy="-8.2"> (J K</tspan><tspan font-size="13.0" dy="-6.7">-1</tspan><tspan dy="6.7"> kg</tspan><tspan font-size="13.0" dy="-6.7">-1</tspan><tspan dy="6.7">)</tspan></text>
<text transform="translate(25.0,448.3) rotate(-90)" font-size="21.6">ΔS<tspan font-size="13.0" dy="8.2">it</tspan><tspan dy="-8.2"> (J K</tspan><tspan font-size="13.0" dy="-6.7">-1</tspan><tspan dy="6.7"> kg</tspan><tspan font-size="13.0" dy="-6.7">-1</tspan><tspan dy="6.7">)</tspan></text>
<text transform="translate(369.3,458.7) rotate(-90)" font-size="21.6">ΔS<tspan font-size="13.0" dy="8.2">it,rev</tspan><tspan dy="-8.2"> (J K</tspan><tspan font-size="13.0" dy="-6.7">-1</tspan><tspan dy="6.7"> kg</tspan><tspan font-size="13.0" dy="-6.7">-1</tspan><tspan dy="6.7">)</tspan></text>
<text x="199.0" y="531.9" text-anchor="middle" font-size="22.4"><tspan font-style="italic">T</tspan> (K)</text>
<text x="541.9" y="531.9" text-anchor="middle" font-size="22.4"><tspan font-style="italic">T</tspan> (K)</text>
<text transform="translate(77.0,33.9) scale(0.87,1)" x="0" y="0" font-size="45.5" font-weight="bold">a</text>
<text transform="translate(418.8,39.0) scale(1.07,1)" font-size="44" font-weight="bold">b</text>
<text transform="translate(78.6,301.4) scale(1.08,1)" font-size="44" font-weight="bold">c</text>
<text transform="translate(419.5,301.6) scale(1.06,1)" font-size="44" font-weight="bold">d</text>
<text transform="translate(262.30,22.20) scale(0.93,1)" font-size="17.1" font-style="italic">p</text>
<line x1="275.1" y1="17.3" x2="291.6" y2="17.3" stroke="#111" stroke-width="1.6"/>
<path d="M 291.1 14.0 L 297.6 17.3 L 291.1 20.6 Z" fill="#111"/>
<text transform="translate(301.20,23.90) scale(0.94,1)" font-size="16.8">0</text>
<text transform="translate(252.10,40.30) scale(0.858,1)" font-size="17">OC</text>
<line x1="275.1" y1="34.8" x2="291.6" y2="34.8" stroke="#111" stroke-width="1.6"/>
<path d="M 291.1 31.499999999999996 L 297.6 34.8 L 291.1 38.099999999999994 Z" fill="#111"/>
<text transform="translate(300.80,40.30) scale(0.78,1)" font-size="17">PC</text>
<text transform="translate(163.10,142.80) scale(0.94,1)" font-size="16.8">0</text>
<line x1="176.3" y1="136.9" x2="193.0" y2="136.9" stroke="#111" stroke-width="1.6"/>
<path d="M 192.5 133.6 L 199.0 136.9 L 192.5 140.20000000000002 Z" fill="#111"/>
<text transform="translate(204.00,141.60) scale(0.93,1)" font-size="17.1" font-style="italic">p</text>
<text transform="translate(157.10,160.00) scale(0.78,1)" font-size="17">PC</text>
<line x1="176.3" y1="154.2" x2="193.0" y2="154.2" stroke="#111" stroke-width="1.6"/>
<path d="M 192.5 150.89999999999998 L 199.0 154.2 L 192.5 157.5 Z" fill="#111"/>
<text transform="translate(201.80,160.00) scale(0.858,1)" font-size="17">OC</text>
<text x="78.2" y="97.2" font-size="16.6">NPG-PG</text>
<line x1="244.4" y1="119.4" x2="262" y2="119.4" stroke="#a52318" stroke-width="2"/>
<text x="265.3" y="124.4" font-size="14">200 bar</text>
<line x1="244.4" y1="138.5" x2="262" y2="138.5" stroke="#d52d1e" stroke-width="2"/>
<text x="265.3" y="143.5" font-size="14">400 bar</text>
<line x1="244.4" y1="157.6" x2="262" y2="157.6" stroke="#e13a1c" stroke-width="2"/>
<text x="265.3" y="162.6" font-size="14">600 bar</text>
<line x1="244.4" y1="176.9" x2="262" y2="176.9" stroke="#e05c34" stroke-width="2"/>
<text x="265.3" y="181.9" font-size="14">800 bar</text>
<line x1="244.4" y1="196.2" x2="262" y2="196.2" stroke="#e47e6e" stroke-width="2"/>
<text x="265.3" y="201.2" font-size="14">1000 bar</text>
<line x1="244.4" y1="215.4" x2="262" y2="215.4" stroke="#e8a09e" stroke-width="2"/>
<text x="265.3" y="220.4" font-size="14">1200 bar</text>
<text transform="translate(605.00,22.20) scale(0.93,1)" font-size="17.1" font-style="italic">p</text>
<line x1="617.4" y1="17.3" x2="634.2" y2="17.3" stroke="#111" stroke-width="1.6"/>
<path d="M 633.7 14.0 L 640.2 17.3 L 633.7 20.6 Z" fill="#111"/>
<text transform="translate(643.60,23.90) scale(0.94,1)" font-size="16.8">0</text>
<text transform="translate(595.00,40.30) scale(0.858,1)" font-size="17">OC</text>
<line x1="617.4" y1="34.8" x2="634.2" y2="34.8" stroke="#111" stroke-width="1.6"/>
<path d="M 633.7 31.499999999999996 L 640.2 34.8 L 633.7 38.099999999999994 Z" fill="#111"/>
<text transform="translate(642.90,40.30) scale(0.78,1)" font-size="17">PC</text>
<text transform="translate(508.10,194.60) scale(0.94,1)" font-size="16.8">0</text>
<line x1="521.9" y1="188.8" x2="538.6" y2="188.8" stroke="#111" stroke-width="1.6"/>
<path d="M 538.1 185.5 L 544.6 188.8 L 538.1 192.10000000000002 Z" fill="#111"/>
<text transform="translate(549.30,193.40) scale(0.93,1)" font-size="17.1" font-style="italic">p</text>
<text transform="translate(502.70,212.10) scale(0.78,1)" font-size="17">PC</text>
<line x1="521.9" y1="205.9" x2="538.6" y2="205.9" stroke="#111" stroke-width="1.6"/>
<path d="M 538.1 202.6 L 544.6 205.9 L 538.1 209.20000000000002 Z" fill="#111"/>
<text transform="translate(547.00,212.10) scale(0.858,1)" font-size="17">OC</text>
<text x="421.6" y="96.9" font-size="16.5">NPG-PG-PE</text>
<line x1="581.2" y1="119.9" x2="598.4" y2="119.9" stroke="#463091" stroke-width="2"/>
<text x="601.1" y="124.9" font-size="14">200 bar</text>
<line x1="581.2" y1="138.9" x2="598.4" y2="138.9" stroke="#2d4ba0" stroke-width="2"/>
<text x="601.1" y="143.9" font-size="14">400 bar</text>
<line x1="581.2" y1="157.9" x2="598.4" y2="157.9" stroke="#3c6eb2" stroke-width="2"/>
<text x="601.1" y="162.9" font-size="14">600 bar</text>
<line x1="581.2" y1="176.9" x2="598.4" y2="176.9" stroke="#6298ca" stroke-width="2"/>
<text x="601.1" y="181.9" font-size="14">800 bar</text>
<line x1="581.2" y1="195.9" x2="598.4" y2="195.9" stroke="#8cb2da" stroke-width="2"/>
<text x="601.1" y="200.9" font-size="14">1000 bar</text>
<line x1="581.2" y1="214.9" x2="598.4" y2="214.9" stroke="#b9d0e8" stroke-width="2"/>
<text x="601.1" y="219.9" font-size="14">1200 bar</text>
<text transform="translate(145.90,292.40) scale(0.95,1)" font-size="14">1000</text>
<line x1="178.9" y1="287.0" x2="196.6" y2="287.0" stroke="#111" stroke-width="1.6"/>
<path d="M 196.1 283.7 L 202.6 287.0 L 196.1 290.3 Z" fill="#111"/>
<text x="205.4" y="292.4" font-size="14">0 bar</text>
<text x="227.8" y="460.9" font-size="14">0</text>
<line x1="237.8" y1="456.1" x2="255.60000000000002" y2="456.1" stroke="#111" stroke-width="1.6"/>
<path d="M 255.10000000000002 452.8 L 261.6 456.1 L 255.10000000000002 459.40000000000003 Z" fill="#111"/>
<text transform="translate(263.60,460.90) scale(0.975,1)" font-size="14">1000 bar</text>
<line x1="77.9" y1="322.9" x2="104.7" y2="322.9" stroke="#78c846" stroke-width="1.6"/>
<line x1="77.9" y1="337.6" x2="104.7" y2="337.6" stroke="#e8a0a0" stroke-width="1.6" stroke-dasharray="6 2.5"/>
<line x1="77.9" y1="351.0" x2="104.7" y2="351.0" stroke="#6ea0d7" stroke-width="1.6" stroke-dasharray="2.6 1.8"/>
<text x="107.3" y="327.6" font-size="13.8">NPG</text>
<text x="107.3" y="341.7" font-size="13.8">NPG-PG</text>
<text x="107.3" y="355.7" font-size="13.8">NPG-PG-PE</text>
<line x1="176.8" y1="411.3" x2="176.8" y2="395" stroke="#222" stroke-width="1.7"/>
<path d="M 173.5 395.5 L 176.8 389.9 L 180.1 395.5 Z" fill="#222"/>
<text x="166.2" y="421.9" font-size="13.8" fill="#222">Tail</text>
<line x1="123" y1="450.7" x2="123" y2="461.2" stroke="#222" stroke-width="1.6"/>
<line x1="123" y1="455.9" x2="140.5" y2="455.9" stroke="#222" stroke-width="1.6"/>
<path d="M 140 452.7 L 145.9 455.9 L 140 459.1 Z" fill="#222"/>
<text x="120.8" y="474.3" font-size="13.8" fill="#222">Shift</text>
<text transform="translate(426.00,323.30) scale(0.95,1)" font-size="14">1000</text>
<line x1="459.0" y1="319.1" x2="476.2" y2="319.1" stroke="#111" stroke-width="1.6"/>
<path d="M 475.7 315.8 L 482.2 319.1 L 475.7 322.40000000000003 Z" fill="#111"/>
<text x="485.6" y="323.3" font-size="14">0 bar</text>
<text x="546.3" y="472.8" font-size="14">0</text>
<line x1="556.8" y1="468.0" x2="574.5" y2="468.0" stroke="#111" stroke-width="1.6"/>
<path d="M 574.0 464.7 L 580.5 468.0 L 574.0 471.3 Z" fill="#111"/>
<text transform="translate(582.00,472.80) scale(0.975,1)" font-size="14">1000 bar</text>
<line x1="553.9" y1="276.7" x2="581.2" y2="276.7" stroke="#78c846" stroke-width="1.6"/>
<line x1="553.9" y1="291.3" x2="581.2" y2="291.3" stroke="#e8a0a0" stroke-width="1.6" stroke-dasharray="5 3"/>
<line x1="553.9" y1="304.4" x2="581.2" y2="304.4" stroke="#6ea0d7" stroke-width="1.6" stroke-dasharray="2.6 1.8"/>
<text x="582.8" y="281.1" font-size="13.9">NPG</text>
<text x="582.8" y="295.2" font-size="13.9">NPG-PG</text>
<text x="582.8" y="308.8" font-size="13.9">NPG-PG-PE</text>
</svg></body></html>
